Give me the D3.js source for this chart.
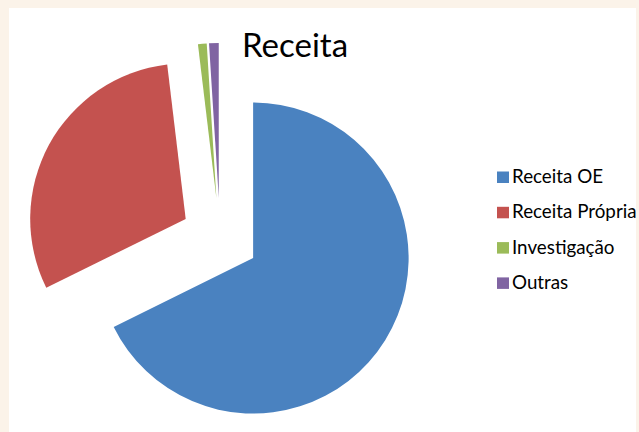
<!DOCTYPE html>
<html>
<head>
<meta charset="utf-8">
<script src="https://cdn.jsdelivr.net/npm/d3@7"></script>
<style>
  html, body { margin: 0; padding: 0; background: #fbf3e9; }
  svg { display: block; }
</style>
</head>
<body>
<svg id="chart" width="639" height="432"></svg>
<script>
// data (share of total, %)
const categories = ["Receita OE", "Receita Própria", "Investigação", "Outras"];
const values = [67.7, 30.4, 0.9, 1.0];
const colors = ["#4a82c0", "#c4524f", "#9bbb59", "#8064a2"];
const title = "Receita";

const svg = d3.select("#chart");
const width = 639, height = 432;

// white plot panel over the cream frame
svg.append("rect")
  .attr("x", 9).attr("y", 8)
  .attr("width", 627).attr("height", height)
  .attr("fill", "#ffffff");

svg.append("text")
  .attr("x", 242).attr("y", 57)
  .attr("font-family", "Lato, 'Open Sans', sans-serif")
  .attr("font-size", 33)
  .attr("fill", "#000")
  .text(title);

const cx = 220, cy = 237.5, radius = 155.5, explode = 39;

const pie = d3.pie().sort(null).value((d) => d);
const arc = d3.arc().innerRadius(0).outerRadius(radius);
const color = d3.scaleOrdinal().domain(categories).range(colors);

const g = svg.append("g").attr("transform", `translate(${cx},${cy})`);

g.selectAll(".slice")
  .data(pie(values))
  .join("path")
  .attr("class", "slice")
  .attr("d", arc)
  .attr("fill", (d, i) => color(categories[i]))
  .attr("transform", (d) => {
    const mid = (d.startAngle + d.endAngle) / 2;
    return `translate(${Math.sin(mid) * explode},${-Math.cos(mid) * explode})`;
  });

// legend
const legend = svg.append("g").attr("transform", "translate(497,183)");
const rowGap = 35.3;

const rows = legend.selectAll(".legend-row")
  .data(categories)
  .join("g")
  .attr("class", "legend-row")
  .attr("transform", (d, i) => `translate(0,${i * rowGap})`);

rows.append("rect")
  .attr("x", 0).attr("y", -11.5)
  .attr("width", 12).attr("height", 11.5)
  .attr("fill", (d) => color(d));

rows.append("text")
  .attr("x", 15).attr("y", 0)
  .attr("font-family", "Lato, 'Open Sans', sans-serif")
  .attr("font-size", 18.8)
  .attr("fill", "#000")
  .text((d) => d);
</script>
</body>
</html>
